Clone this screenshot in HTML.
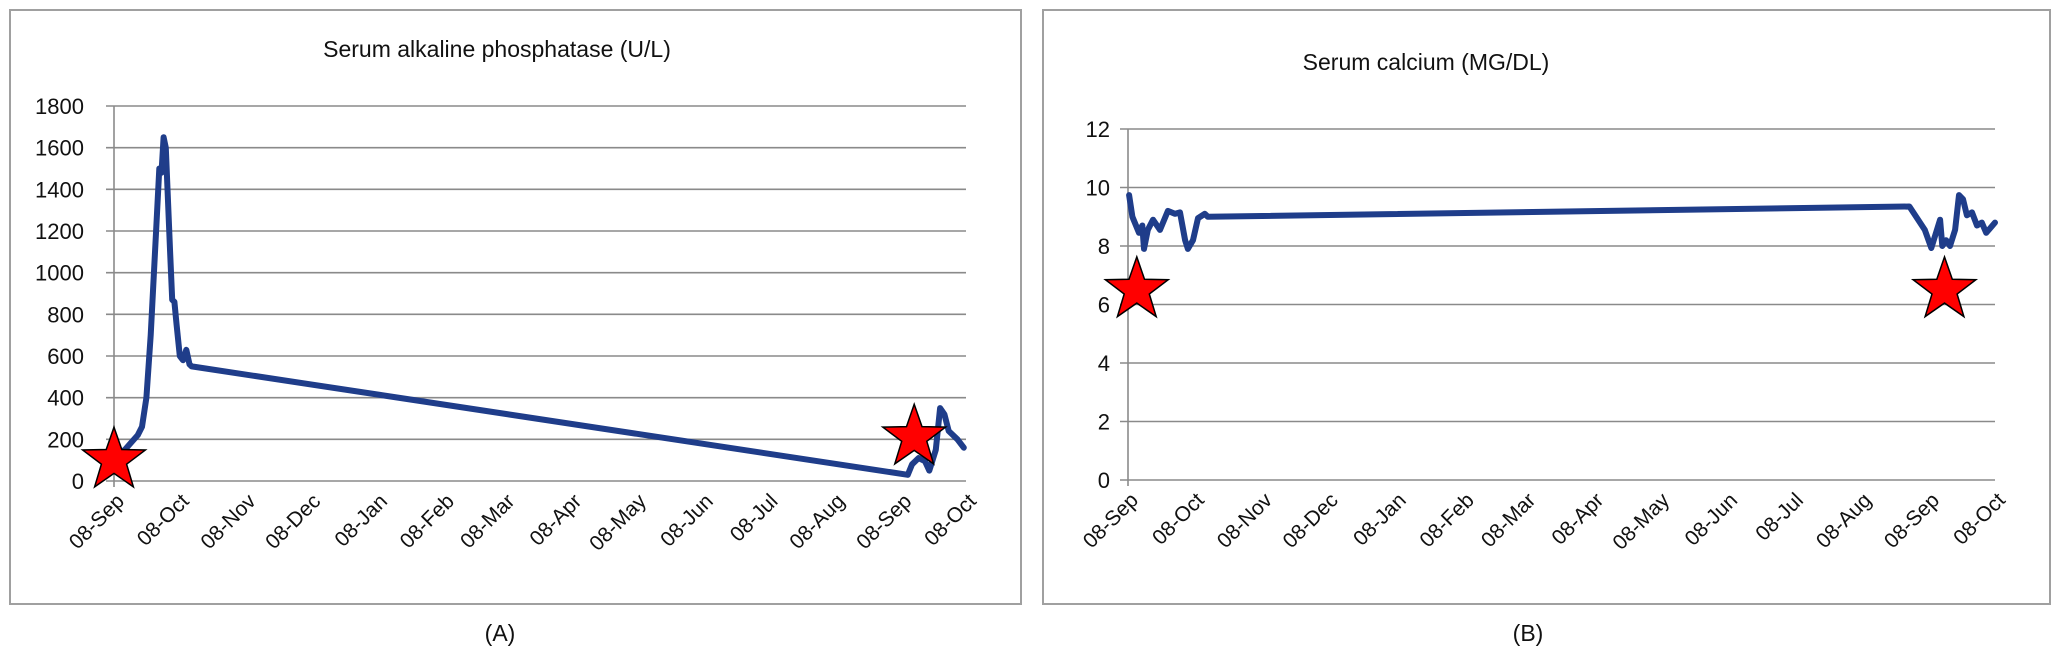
<!DOCTYPE html>
<html><head><meta charset="utf-8"><style>
html,body{margin:0;padding:0;background:#fff;}
svg{display:block;font-family:"Liberation Sans",sans-serif;}
</style></head><body>
<svg id="root" width="2060" height="653" viewBox="0 0 2060 653" xmlns="http://www.w3.org/2000/svg">
<rect x="10" y="10" width="1011" height="594" fill="#fff" stroke="#a0a0a0" stroke-width="2"/>
<rect x="1043" y="10" width="1007" height="594" fill="#fff" stroke="#a0a0a0" stroke-width="2"/>
<text x="497" y="57" font-size="23" text-anchor="middle" fill="#111">Serum alkaline phosphatase (U/L)</text>
<text x="1426" y="70" font-size="23" text-anchor="middle" fill="#111">Serum calcium (MG/DL)</text>
<text x="500" y="641" font-size="23" text-anchor="middle" fill="#111">(A)</text>
<text x="1528" y="641" font-size="23" text-anchor="middle" fill="#111">(B)</text>
<g id="chartA"></g>
<g id="chartB"></g>
</svg>
<script>
const monthLabels = ["08-Sep","08-Oct","08-Nov","08-Dec","08-Jan","08-Feb","08-Mar","08-Apr","08-May","08-Jun","08-Jul","08-Aug","08-Sep","08-Oct"];
const monthDays = [0,30,61,91,122,153,181,212,242,273,303,334,365,395];
const alpDays = [0,5,11,13,15,17,19.5,21,22,23,24,26,27,28,29,30.5,32,33.5,35,36,368,370,373,376,378,381,383,385,387,391,394];
const alpValues = [120,150,220,260,400,700,1200,1500,1480,1650,1600,1100,870,860,750,600,580,630,560,550,30,80,110,95,50,150,350,320,240,200,160];
const alpTicks = [0,200,400,600,800,1000,1200,1400,1600,1800];
const alpStarDays = [0,371];
const alpStarValues = [100,210];
const caDays = [0.5,2,5,6.5,7.3,9,11.4,14.6,18.2,21.4,23.7,26,27.3,29.6,31.9,35,36.4,356,363,366,370,371,372.7,374.5,376.8,378.6,380.4,382.2,384.5,386.8,389,391,392.7,395];
const caValues = [9.74,9.0,8.45,8.7,7.9,8.55,8.9,8.55,9.2,9.1,9.15,8.2,7.9,8.2,8.95,9.1,9.0,9.35,8.55,7.93,8.9,8.0,8.2,8.0,8.55,9.74,9.6,9.05,9.15,8.7,8.8,8.45,8.6,8.8];
const caTicks = [0,2,4,6,8,10,12];
const caStarDays = [4,372];
const caStarValues = [6.5,6.5];

const NS="http://www.w3.org/2000/svg";
function mk(tag,attrs,parent){const e=document.createElementNS(NS,tag);for(const k in attrs)e.setAttribute(k,attrs[k]);parent.appendChild(e);return e;}
function starPts(cx,cy,R){const r=R*0.4;let p=[];for(let i=0;i<10;i++){const a=-Math.PI/2+i*Math.PI/5;const rr=i%2?r:R;p.push((cx+rr*Math.cos(a)).toFixed(1)+","+(cy+rr*Math.sin(a)).toFixed(1));}return p.join(" ");}

function drawChart(g,cfg){
  const x=d=>cfg.x0+(d-0)/(395)*(cfg.x1-cfg.x0);
  const y=v=>cfg.y0-(v/cfg.ymax)*(cfg.y0-cfg.yTop);
  cfg.ticks.forEach(t=>{
    const l=mk("line",{x1:cfg.x0-8,x2:cfg.x1,y1:y(t),y2:y(t),stroke:"#8a8a8a","stroke-width":1.6},g);
    
    
    const tx=mk("text",{x:cfg.x0-cfg.labOff,y:y(t)+8,"font-size":22,"text-anchor":"end",fill:"#111"},g);
    tx.textContent=t;
    
    
  });
  const ax=mk("line",{x1:cfg.x0,x2:cfg.x0,y1:cfg.yTop,y2:cfg.y0+6,stroke:"#8a8a8a","stroke-width":1.6},g);
  
  
  monthDays.forEach((d,i)=>{
    const px=x(d)+4,py=cfg.y0+14;
    const tx=mk("text",{x:px,y:py,"font-size":21,"text-anchor":"end",fill:"#111",transform:`rotate(-45 ${px} ${py})`,dy:"0.5em"},g);
    tx.textContent=monthLabels[i];
    
    
  });
  const pts=cfg.days.map((d,i)=>x(d).toFixed(1)+","+y(cfg.vals[i]).toFixed(1)).join(" ");
  const pl=mk("polyline",{points:pts,fill:"none",stroke:"#1f3d8a","stroke-width":6,"stroke-linejoin":"round","stroke-linecap":"round"},g);
  
  
  cfg.sd.forEach((d,i)=>{
    const s=mk("polygon",{points:starPts(x(d),y(cfg.sv[i]),33),fill:"#ff0000",stroke:"#000","stroke-width":1.5},g);
    
    
  });
}
drawChart(document.getElementById("chartA"),{x0:114,x1:966,y0:481,yTop:106,ymax:1800,ticks:alpTicks,labOff:30,days:alpDays,vals:alpValues,sd:alpStarDays,sv:alpStarValues});
drawChart(document.getElementById("chartB"),{x0:1128,x1:1995,y0:480,yTop:129,ymax:12,ticks:caTicks,labOff:18,days:caDays,vals:caValues,sd:caStarDays,sv:caStarValues});
</script>
</body></html>
